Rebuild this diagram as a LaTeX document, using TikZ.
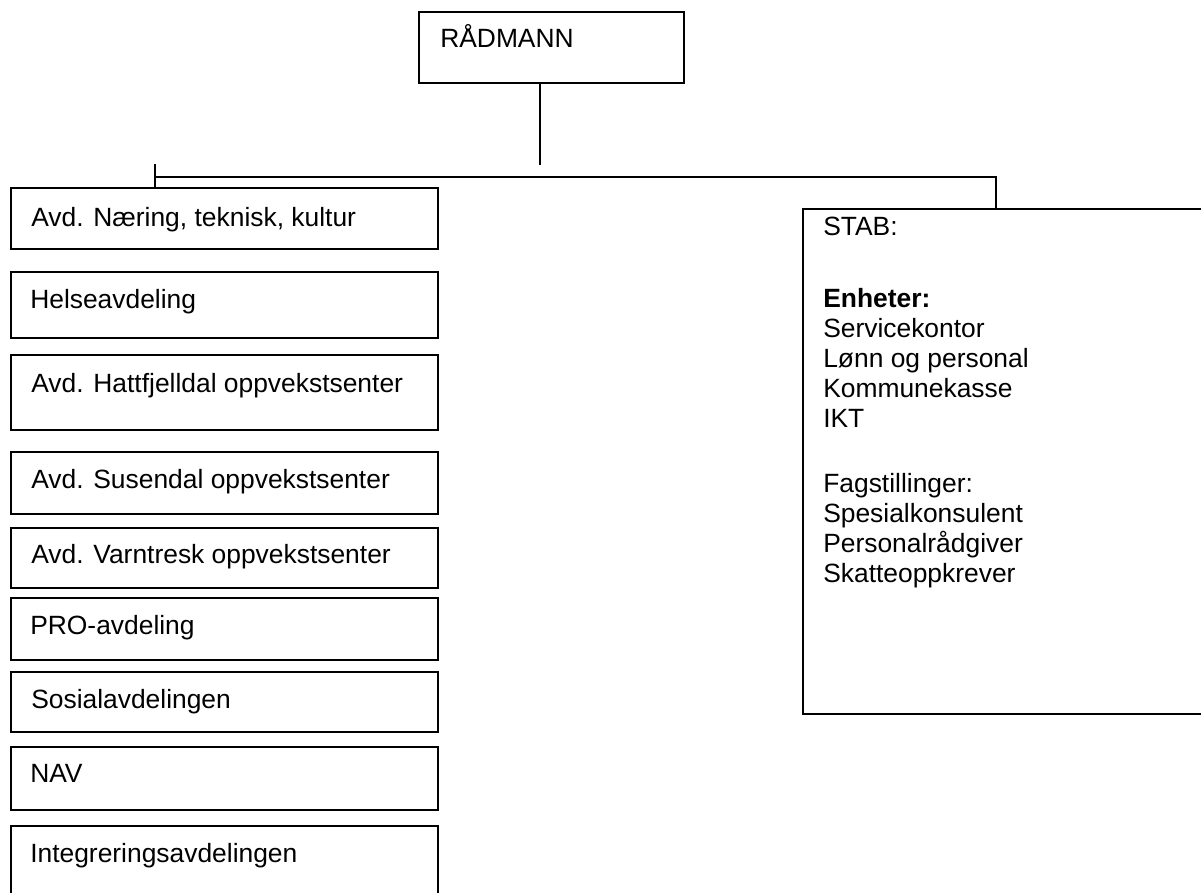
\documentclass[tikz,border=0pt]{standalone}
\usepackage{fontspec}
\setmainfont{Liberation Sans}
\usepackage{tikz}
\usetikzlibrary{positioning}
\tikzset{
  unitbox/.style={draw=black, line width=1.4pt, inner sep=0pt, outer sep=0pt},
  unittext/.style={anchor=base west, inner sep=0pt, font=\fontsize{19.8}{22.5}\selectfont},
  orgline/.style={draw=black, line width=1.3pt}
}

\begin{document}
\begin{tikzpicture}[x=0.75pt, y=-0.75pt]
\useasboundingbox (0,0) rectangle (1201,892);
\clip (0,0) rectangle (1201,892);
\node[unitbox, minimum width=198.75pt, minimum height=53.25pt] (radmann) at (551.5,47.5) {};
\node[unittext] (t-radmann) at (440,48) {RÅDMANN};
\node[unitbox, minimum width=320.25pt, minimum height=45.75pt] (ntk) at (224.5,218.5) {};
\node[unittext] (t-ntk) at (31,226) {Avd. Næring, teknisk, kultur};
\node[unitbox, minimum width=320.25pt, minimum height=49.5pt] (helse) at (224.5,305) {};
\node[unittext] (t-helse) at (30,308) {Helseavdeling};
\node[unitbox, minimum width=320.25pt, minimum height=56.25pt] (hattfj) at (224.5,392.5) {};
\node[unittext] (t-hattfj) at (31,392) {Avd. Hattfjelldal oppvekstsenter};
\node[unitbox, minimum width=320.25pt, minimum height=46.5pt] (susendal) at (224.5,483) {};
\node[unittext] (t-susendal) at (31,488) {Avd. Susendal oppvekstsenter};
\node[unitbox, minimum width=320.25pt, minimum height=45pt] (varntresk) at (224.5,558) {};
\node[unittext] (t-varntresk) at (31,563) {Avd. Varntresk oppvekstsenter};
\node[unitbox, minimum width=320.25pt, minimum height=46.5pt] (pro) at (224.5,629) {};
\node[unittext] (t-pro) at (30,634) {PRO-avdeling};
\node[unitbox, minimum width=320.25pt, minimum height=45pt] (sosial) at (224.5,702) {};
\node[unittext] (t-sosial) at (31,708) {Sosialavdelingen};
\node[unitbox, minimum width=320.25pt, minimum height=47.25pt] (nav) at (224.5,778.5) {};
\node[unittext] (t-nav) at (30,782) {NAV};
\node[unitbox, minimum width=320.25pt, minimum height=63pt] (integ) at (224.5,868) {};
\node[unittext] (t-integ) at (30,862) {Integreringsavdelingen};
\node[unitbox, minimum width=305.25pt, minimum height=378.75pt] (stab) at (1006.5,461.5) {};
\node[unittext] (t-stab) at (823,235) {STAB:};
\node[unittext] (t-enheter) at (823,307) {\textbf{Enheter:}};
\node[unittext] (t-service) at (823,337) {Servicekontor};
\node[unittext] (t-lonn) at (823,367) {Lønn og personal};
\node[unittext] (t-kasse) at (823,397) {Kommunekasse};
\node[unittext] (t-ikt) at (823,427) {IKT};
\node[unittext] (t-fag) at (823,492) {Fagstillinger:};
\node[unittext] (t-spes) at (823,522) {Spesialkonsulent};
\node[unittext] (t-pers) at (823,552) {Personalrådgiver};
\node[unittext] (t-skatt) at (823,582) {Skatteoppkrever};
\coordinate (hub) at (540,165);
\coordinate (lbus) at (155,177);
\coordinate (ltop) at (155,164);
\coordinate (rbus) at (996,177);
\draw[orgline] (hub |- radmann.south) -- (hub);
\draw[orgline] (lbus) -- (rbus) -- (rbus |- stab.north);
\draw[orgline] (ltop) -- (ltop |- ntk.north);
\end{tikzpicture}
\end{document}
